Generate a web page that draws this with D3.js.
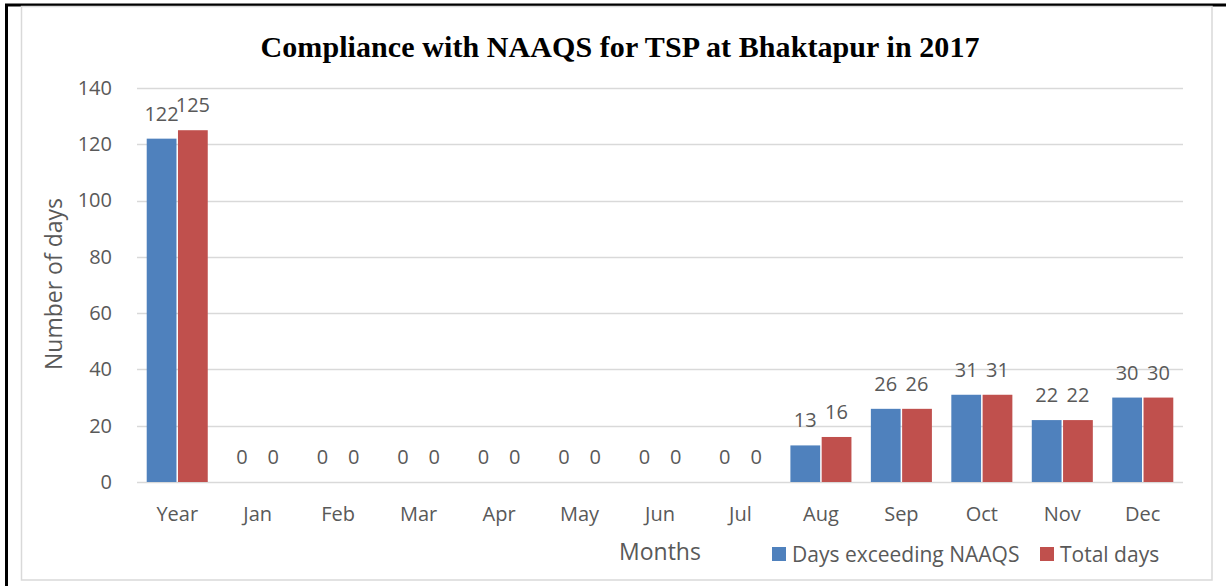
<!DOCTYPE html>
<html>
<head>
    <meta charset="utf-8">
    <title>Compliance with NAAQS for TSP at Bhaktapur in 2017</title>
    <script src="https://cdn.jsdelivr.net/npm/d3@7"></script>
    <style>
        body { margin: 0; background: #fff; }
        text { font-family: "Open Sans", Lato, sans-serif; fill: #595959; }
    </style>
</head>
<body>
    <svg class="chart"></svg>
    <script>
        const categories = ["Year", "Jan", "Feb", "Mar", "Apr", "May", "Jun", "Jul", "Aug", "Sep", "Oct", "Nov", "Dec"]
        const exceeding = [122, 0, 0, 0, 0, 0, 0, 0, 13, 26, 31, 22, 30]
        const totalDays = [125, 0, 0, 0, 0, 0, 0, 0, 16, 26, 31, 22, 30]
        const seriesNames = ["Days exceeding NAAQS", "Total days"]
        const colors = ["#4f81bd", "#c0504d"]
        const yTicks = [0, 20, 40, 60, 80, 100, 120, 140]

        var width = 1226, height = 586
        const plot = { left: 137, right: 1183, top: 88, bottom: 482 }

        var svg = d3.select(".chart")
            .attr("width", width)
            .attr("height", height)

        // page frame (black) and chart frame (grey)
        svg.append("path")
            .attr("d", "M6.5,586 V5 H1226")
            .attr("fill", "none")
            .attr("stroke", "#000")
            .attr("stroke-width", 3)
        svg.append("rect")
            .attr("x", 21.5).attr("y", 6.5)
            .attr("width", 1190.5).attr("height", 573.5)
            .attr("fill", "none")
            .attr("stroke", "#d9d9d9")
            .attr("stroke-width", 1.5)

        var x = d3.scaleBand()
            .domain(categories)
            .range([plot.left, plot.right])

        var y = d3.scaleLinear()
            .domain([0, 140])
            .range([plot.bottom, plot.top])

        // grid
        svg.append("g")
            .selectAll("line")
            .data(yTicks)
            .enter()
            .append("line")
            .attr("x1", plot.left)
            .attr("x2", plot.right)
            .attr("y1", d => Math.round(y(d)) + 0.5)
            .attr("y2", d => Math.round(y(d)) + 0.5)
            .attr("stroke", "#d9d9d9")
            .attr("stroke-width", 1.5)

        // y axis labels
        var yAxis = svg.append("g")
            .attr("transform", `translate(${plot.left}, 0)`)
            .call(d3.axisLeft(y).tickValues(yTicks).tickSize(0).tickPadding(25))
        yAxis.select(".domain").remove()
        yAxis.selectAll("text")
            .style("font-size", "20px")
            .attr("fill", "#595959")

        // x axis labels
        var xAxis = svg.append("g")
            .attr("transform", `translate(0, ${plot.bottom})`)
            .call(d3.axisBottom(x).tickSize(0).tickPadding(25))
        xAxis.select(".domain").remove()
        xAxis.selectAll("text")
            .style("font-size", "20px")
            .attr("fill", "#595959")

        const barW = x.bandwidth() * 0.37
        const series = [exceeding, totalDays]

        series.forEach((values, s) => {
            var rows = categories.map((c, i) => ({ cat: c, v: values[i] }))
            var xpos = d => x(d.cat) + x.bandwidth() / 2 + (s === 0 ? -barW - 0.75 : 0.75)

            svg.append("g")
                .selectAll("rect")
                .data(rows)
                .enter()
                .append("rect")
                .attr("x", xpos)
                .attr("y", d => y(d.v))
                .attr("width", barW)
                .attr("height", d => y(0) - y(d.v))
                .attr("fill", colors[s])

            svg.append("g")
                .selectAll("text")
                .data(rows)
                .enter()
                .append("text")
                .attr("x", d => xpos(d) + barW / 2)
                .attr("y", d => y(d.v) - 18)
                .attr("text-anchor", "middle")
                .style("font-size", "20px")
                .text(d => d.v)
        })

        // title
        svg.append("text")
            .attr("x", 620)
            .attr("y", 57)
            .attr("text-anchor", "middle")
            .attr("textLength", 719)
            .style("font-family", "'Liberation Serif', 'DejaVu Serif', serif")
            .style("font-weight", "bold")
            .style("font-size", "30px")
            .style("fill", "#000")
            .text("Compliance with NAAQS for TSP at Bhaktapur in 2017")

        // axis titles
        svg.append("text")
            .attr("transform", "translate(62, 284) rotate(-90)")
            .attr("text-anchor", "middle")
            .style("font-size", "23px")
            .text("Number of days")

        svg.append("text")
            .attr("x", 660)
            .attr("y", 560)
            .attr("text-anchor", "middle")
            .style("font-size", "23px")
            .text("Months")

        // legend
        const legendX = [772, 1040]
        seriesNames.forEach((name, i) => {
            svg.append("rect")
                .attr("x", legendX[i])
                .attr("y", 547)
                .attr("width", 14)
                .attr("height", 14)
                .attr("fill", colors[i])
            svg.append("text")
                .attr("x", legendX[i] + 20)
                .attr("y", 562)
                .style("font-size", "21px")
                .text(name)
        })
    </script>
</body>
</html>
